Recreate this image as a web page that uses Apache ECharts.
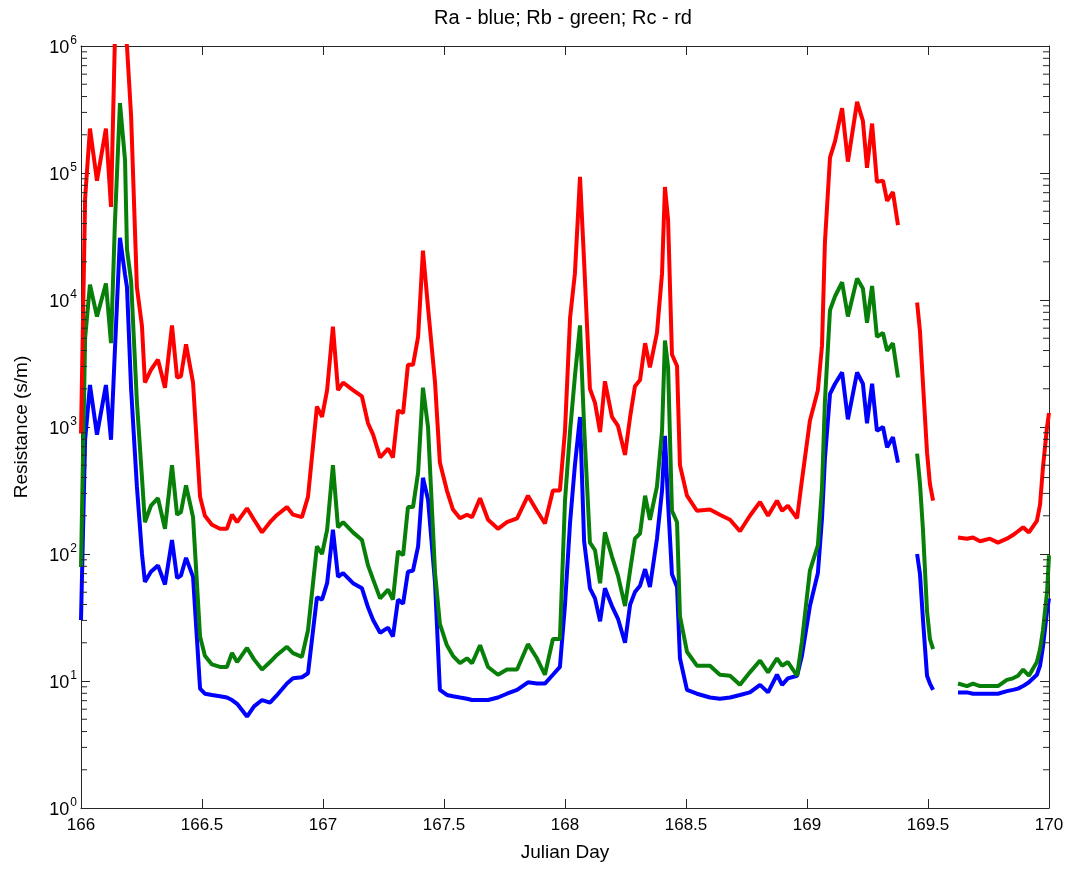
<!DOCTYPE html>
<html>
<head>
<meta charset="utf-8">
<script src="https://cdn.jsdelivr.net/npm/echarts@6/dist/echarts.min.js"></script>
<style>
html,body{margin:0;padding:0;background:#fff;}
#chart{width:1073px;height:873px;}
</style>
</head>
<body>
<div id="chart"></div>
<script>
// Julian day of each sample (null values = gaps in the record)
const days = [
166.000,166.017,166.037,166.066,166.103,166.124,166.140,166.161,166.182,166.190,
166.207,166.231,166.252,166.264,166.289,166.318,166.347,166.376,166.397,166.413,
166.434,166.463,166.492,166.512,166.541,166.574,166.603,166.624,166.645,166.686,
166.715,166.748,166.781,166.806,166.851,166.876,166.913,166.938,166.975,166.996,
167.017,167.041,167.062,167.083,167.124,167.161,167.186,167.207,167.236,167.269,
167.289,167.310,167.331,167.351,167.372,167.393,167.413,167.434,167.463,167.483,
167.512,167.537,167.566,167.595,167.616,167.649,167.682,167.723,167.760,167.802,
167.847,167.884,167.917,167.950,167.979,168.000,168.021,168.041,168.062,168.079,
168.103,168.124,168.145,168.165,168.194,168.219,168.248,168.269,168.289,168.310,
168.331,168.351,168.380,168.401,168.413,168.426,168.442,168.463,168.475,168.504,
168.545,168.599,168.640,168.682,168.723,168.764,168.806,168.839,168.876,168.897,
168.921,168.959,168.979,169.012,169.045,169.062,169.074,169.095,169.116,169.145,
169.169,169.207,169.231,169.248,169.269,169.289,169.314,169.331,169.355,169.376,
169.410,
169.455,169.467,169.479,169.496,169.508,169.521,
169.570,
169.624,169.661,169.686,169.715,169.756,169.789,169.826,169.851,169.872,169.893,
169.917,169.950,169.963,169.975,169.992,170.000
];

// Ra (blue)
const ra = [
30.2,794,2140,871,2140,794,3980,30900,15800,12600,
2000,339,100,60.3,72.4,81.3,57.5,129,64.6,67.6,
93.3,66.1,8.71,7.94,7.76,7.59,7.41,7.08,6.61,5.25,
6.31,7.08,6.76,7.59,9.55,10.5,10.7,11.5,45.7,43.7,
58.9,155,66.1,70.8,58.9,53.7,38.0,30.2,24.0,26.3,
22.4,43.7,40.7,72.4,74.1,115,398,269,58.9,8.51,
7.76,7.59,7.41,7.24,7.08,7.08,7.08,7.41,7.94,8.51,
9.77,9.55,9.55,11.2,12.9,39.8,178,501,1200,126,
53.7,44.7,29.5,53.7,38.9,30.9,20.0,39.8,50.1,56.2,
75.9,55.0,132,316,851,251,69.2,55.0,15.1,8.51,
7.94,7.41,7.24,7.41,7.76,8.13,9.33,8.13,11.2,9.33,
10.5,11.0,15.8,38.9,70.8,191,562,1820,2190,2690,
1150,2690,2190,1070,2190,933,1000,692,832,525,
null,
100,69.2,30.9,11.0,9.55,8.51,
null,
8.13,8.13,7.94,7.94,7.94,7.94,8.32,8.51,8.71,9.12,
9.77,11.2,13.2,18.6,35.5,44.7
];

// Rb (green)
const rb = [
79,5010,13200,7410,13500,4570,39800,355000,126000,25100,
14100,1580,398,178,240,275,158,501,204,214,
347,195,22.4,15.8,13.5,12.9,12.9,16.6,14.1,18.2,
14.8,12.3,14.1,15.8,18.6,16.6,15.5,25.1,115,100,
155,501,162,178,148,129,81.3,63.1,44.7,52.5,
43.7,105,97.7,234,234,437,2040,1000,70.8,28.2,
19.1,15.8,13.8,15.1,13.8,19.1,12.9,11.2,12.3,12.3,
19.5,15.1,11.2,21.4,21.4,263,933,2510,6310,1000,
123,107,58.9,148,95.5,67.6,38.9,74.1,132,145,
288,186,339,933,4790,2950,219,178,32.4,17.0,
13.2,13.2,11.2,11.0,9.33,11.7,14.5,11.7,15.1,13.2,
14.1,11.0,20.4,74.1,117,331,1580,8320,10700,13800,
7410,14800,12300,6610,12900,5130,5500,3980,4570,2450,
null,
617,355,158,35.5,21.4,17.8,
null,
9.55,9.12,9.55,9.12,9.12,9.12,10.2,10.5,11.0,12.3,
11.0,14.1,17.8,25.1,50.1,97.7
];

// Rc (red)
const rc = [
890,63000,224000,87000,224000,54000,1120000,1580000,1260000,1000000,
282000,12600,6200,2240,2820,3390,2040,6310,2450,2510,
4470,2240,282,200,170,158,158,204,178,229,
186,148,178,200,234,204,195,282,1450,1200,
1950,6170,1950,2240,1950,1740,1070,871,575,676,
575,1350,1290,3090,3090,5130,24500,8710,2240,525,
316,224,191,204,195,275,186,158,178,191,
288,219,174,316,316,933,7240,16200,93300,20000,
2000,1550,912,2290,1200,1020,603,1200,2090,2340,
4570,2950,5500,16200,77600,42700,3720,3020,501,288,
219,224,204,186,151,200,257,200,263,219,
240,191,380,1120,1950,4370,28200,132000,178000,324000,
123000,363000,257000,110000,245000,85100,87100,60300,70800,38900,
null,
9550,5620,2240,631,355,263,
null,
135,132,135,126,132,123,132,141,151,162,
148,182,245,479,1000,1290
];

const xTicks = { min: 166, max: 170, step: 0.5 };
const yDecades = [0, 1, 2, 3, 4, 5, 6];

const FONT = '"Liberation Sans", Arial, Helvetica, sans-serif';
const AXIS_COLOR = '#262626';

function pairs(vals) {
  return days.map((d, i) => [d, vals[i] == null ? '-' : vals[i]]);
}

// minor tick values of the log axis (2..9 x each decade)
const minorTickVals = [];
for (let k = yDecades[0]; k < yDecades[yDecades.length - 1]; k++) {
  for (let m = 2; m <= 9; m++) minorTickVals.push(m * Math.pow(10, k));
}

const chart = echarts.init(document.getElementById('chart'), null, { renderer: 'canvas' });

const baseX = {
  type: 'value', min: xTicks.min, max: xTicks.max, interval: xTicks.step,
  splitLine: { show: false },
  axisLine: { show: true, onZero: false, lineStyle: { color: AXIS_COLOR, width: 1 } },
  axisTick: { show: true, inside: true, length: 9, lineStyle: { color: AXIS_COLOR } }
};
const baseY = {
  type: 'log', logBase: 10, min: Math.pow(10, yDecades[0]), max: Math.pow(10, yDecades[yDecades.length - 1]),
  interval: 1,
  splitLine: { show: false },
  minorTick: { show: false },
  axisLine: { show: true, onZero: false, lineStyle: { color: AXIS_COLOR, width: 1 } },
  axisTick: { show: true, inside: true, length: 9, lineStyle: { color: AXIS_COLOR } }
};

const option = {
  animation: false,
  backgroundColor: '#ffffff',
  title: {
    text: 'Ra - blue; Rb - green; Rc - rd',
    left: 558, top: 3, textAlign: 'center',
    textStyle: { fontFamily: FONT, fontSize: 20, fontWeight: 'normal', color: '#000' }
  },
  grid: { left: 81, right: 24, top: 46, bottom: 65, containLabel: false },
  xAxis: [
    Object.assign({}, baseX, {
      position: 'bottom',
      name: 'Julian Day', nameLocation: 'middle', nameGap: 35,
      nameTextStyle: { fontFamily: FONT, fontSize: 19, color: '#000' },
      axisLabel: {
        show: true, margin: 9, fontFamily: FONT, fontSize: 17, color: '#000',
        formatter: v => String(v)
      }
    }),
    Object.assign({}, baseX, { position: 'top', axisLabel: { show: false } })
  ],
  yAxis: [
    Object.assign({}, baseY, {
      position: 'left',
      name: 'Resistance (s/m)', nameLocation: 'middle', nameGap: 50, nameRotate: 90,
      nameTextStyle: { fontFamily: FONT, fontSize: 19, color: '#000' },
      axisLabel: {
        show: true, margin: 4, color: '#000',
        formatter: v => '{b|10}{s|' + Math.round(Math.log10(v)) + '}',
        rich: {
          b: { fontFamily: FONT, fontSize: 18, color: '#000', lineHeight: 22, verticalAlign: 'bottom' },
          s: { fontFamily: FONT, fontSize: 12, color: '#000', lineHeight: 22, verticalAlign: 'top', padding: [0, 0, 0, 1] }
        }
      }
    }),
    Object.assign({}, baseY, { position: 'right', axisLabel: { show: false } })
  ],
  series: [
    {
      name: 'Ra', type: 'line', xAxisIndex: 0, yAxisIndex: 0,
      data: pairs(ra), showSymbol: false, symbol: 'none', connectNulls: false,
      lineStyle: { color: '#0000ff', width: 4 }, itemStyle: { color: '#0000ff' }, z: 2
    },
    {
      name: 'Rb', type: 'line', xAxisIndex: 0, yAxisIndex: 0,
      data: pairs(rb), showSymbol: false, symbol: 'none', connectNulls: false,
      lineStyle: { color: '#087f08', width: 4 }, itemStyle: { color: '#087f08' }, z: 3
    },
    {
      name: 'Rc', type: 'line', xAxisIndex: 0, yAxisIndex: 0,
      data: pairs(rc), showSymbol: false, symbol: 'none', connectNulls: false,
      lineStyle: { color: '#ff0000', width: 4 }, itemStyle: { color: '#ff0000' }, z: 4
    },
    {
      name: 'minorTicks', type: 'custom', xAxisIndex: 0, yAxisIndex: 0,
      silent: true, clip: false, z: 10,
      encode: { x: 0, y: 1 },
      data: minorTickVals.map(v => [xTicks.min, v]),
      renderItem: function (params, api) {
        const v = api.value(1);
        const l = api.coord([xTicks.min, v]);
        const r = api.coord([xTicks.max, v]);
        return {
          type: 'group',
          children: [
            { type: 'line', shape: { x1: l[0], y1: l[1], x2: l[0] + 6, y2: l[1] }, style: { stroke: AXIS_COLOR, lineWidth: 1 } },
            { type: 'line', shape: { x1: r[0] - 6, y1: r[1], x2: r[0], y2: r[1] }, style: { stroke: AXIS_COLOR, lineWidth: 1 } }
          ]
        };
      }
    }
  ]
};

chart.setOption(option);
</script>
</body>
</html>
